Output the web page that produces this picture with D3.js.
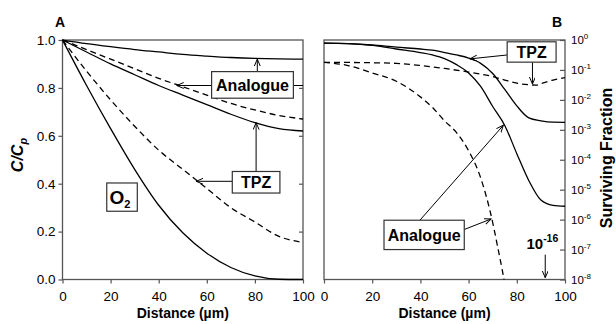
<!DOCTYPE html>
<html>
<head>
<meta charset="utf-8">
<script src="https://cdn.jsdelivr.net/npm/d3@7"></script>
<style>
  body { margin: 0; background: #fff; }
  text { font-family: "Liberation Sans", Arial, sans-serif; }
</style>
</head>
<body>
<div id="chart"></div>
<script>
// Panel A: relative concentration C/Cp vs distance
const distA = [0, 10, 20, 30, 40, 50, 60, 70, 80, 90, 100];
const analogueSolidA = [1, 0.985, 0.972, 0.96, 0.95, 0.94, 0.933, 0.927, 0.923, 0.921, 0.92];
const analogueDashA  = [1, 0.96, 0.92, 0.88, 0.84, 0.805, 0.77, 0.735, 0.708, 0.685, 0.67];
const tpzSolidA      = [1, 0.95, 0.90, 0.855, 0.81, 0.77, 0.73, 0.69, 0.655, 0.63, 0.62];
const tpzDashA       = [1, 0.87, 0.75, 0.64, 0.54, 0.46, 0.38, 0.30, 0.24, 0.18, 0.155];
const o2A            = [1, 0.81, 0.63, 0.46, 0.31, 0.195, 0.11, 0.05, 0.015, 0.001, 0];

// Panel B: surviving fraction vs distance
const distB = [0, 10, 20, 30, 40, 45, 50, 55, 60, 65, 70, 75, 80, 85, 90, 95, 100];
const tpzSolidB      = [0.79, 0.76, 0.68, 0.575, 0.5, 0.457, 0.38, 0.316, 0.25, 0.166, 0.076, 0.0224, 0.0063, 0.0025, 0.002, 0.0018, 0.00178];
const analogueSolidB = [0.79, 0.76, 0.66, 0.5, 0.38, 0.316, 0.24, 0.15, 0.079, 0.028, 0.006, 0.0014, 1.6e-4, 2e-5, 4.5e-6, 3e-6, 2.8e-6];
const distTpzDashB   = [0, 10, 20, 30, 40, 50, 60, 70, 75, 80, 85, 88, 90, 95, 100];
const tpzDashB       = [0.18, 0.178, 0.174, 0.166, 0.141, 0.112, 0.085, 0.06, 0.046, 0.036, 0.032, 0.031, 0.035, 0.046, 0.055];
const distAnaDashB   = [0, 10, 20, 30, 40, 45, 50, 55, 60, 65, 70, 72, 74, 76];
const analogueDashB  = [0.18, 0.14, 0.079, 0.042, 0.0126, 0.0056, 0.002, 8e-4, 2e-4, 2.5e-5, 8e-7, 1.3e-7, 2e-8, 2.5e-9];

const ticksA = [0, 0.2, 0.4, 0.6, 0.8, 1.0];
const ticksX = [0, 20, 40, 60, 80, 100];
const exponentsB = [0, -1, -2, -3, -4, -5, -6, -7, -8];

const W = 616, H = 324;
const frameColor = "#555";

const svg = d3.select("#chart")
    .append("svg")
    .attr("width", W)
    .attr("height", H);

svg.append("rect").attr("width", W).attr("height", H).attr("fill", "#fff");

const xA = d3.scaleLinear().domain([0, 100]).range([62.5, 303]);
const yA = d3.scaleLinear().domain([0, 1]).range([279.5, 40]);
const xB = d3.scaleLinear().domain([0, 100]).range([324, 565]);
const yB = d3.scaleLog().domain([1e-8, 1]).range([279.5, 40]);

// arrow head
svg.append("defs").append("marker")
    .attr("id", "arrow")
    .attr("markerUnits", "userSpaceOnUse")
    .attr("markerWidth", 10).attr("markerHeight", 8)
    .attr("refX", 7).attr("refY", 3)
    .attr("orient", "auto")
    .append("path")
    .attr("d", "M0,0 L7,3 L0,6")
    .attr("fill", "none")
    .attr("stroke", "#000")
    .attr("stroke-width", 1);

svg.select("defs").append("clipPath")
    .attr("id", "clipB")
    .append("rect")
    .attr("x", xB(0)).attr("y", yB(1))
    .attr("width", xB(100) - xB(0)).attr("height", yB(1e-8) - yB(1));

// ---------- Panel A ----------
const gA = svg.append("g");

gA.append("g")
    .attr("transform", `translate(0,${yA(0)})`)
    .call(d3.axisBottom(xA).tickValues(ticksX).tickSize(4).tickPadding(8))
    .call(g => g.select(".domain").remove());

gA.append("g")
    .attr("transform", `translate(${xA(0)},0)`)
    .call(d3.axisLeft(yA).tickValues(ticksA).tickFormat(d3.format(".1f")).tickSize(4).tickPadding(3))
    .call(g => g.select(".domain").remove());

// inward ticks on right edge
gA.append("g")
    .attr("transform", `translate(${xA(100)},0)`)
    .call(d3.axisRight(yA).tickValues(ticksA.slice(1, 5)).tickFormat("").tickSize(-4))
    .call(g => g.select(".domain").remove());

gA.append("rect")
    .attr("x", xA(0)).attr("y", yA(1))
    .attr("width", xA(100) - xA(0)).attr("height", yA(0) - yA(1))
    .attr("fill", "none").attr("stroke", frameColor).attr("stroke-width", 1.3);

const lineA = d3.line()
    .x(d => xA(d[0]))
    .y(d => yA(d[1]))
    .curve(d3.curveMonotoneX);

const seriesA = [
    { values: analogueSolidA, dash: null },
    { values: analogueDashA, dash: "6,4" },
    { values: tpzSolidA, dash: null },
    { values: tpzDashA, dash: "6,4" },
    { values: o2A, dash: null }
];

gA.selectAll(".lineA")
    .data(seriesA)
    .enter()
    .append("path")
    .attr("class", "lineA")
    .attr("d", s => lineA(distA.map((d, i) => [d, s.values[i]])))
    .attr("fill", "none")
    .attr("stroke", "#000")
    .attr("stroke-width", 1.3)
    .attr("stroke-dasharray", s => s.dash);

// ---------- Panel B ----------
const gB = svg.append("g");

gB.append("g")
    .attr("transform", `translate(0,${yB(1e-8)})`)
    .call(d3.axisBottom(xB).tickValues(ticksX).tickSize(4).tickPadding(8))
    .call(g => g.select(".domain").remove());

gB.append("g")
    .attr("transform", `translate(${xB(100)},0)`)
    .call(d3.axisRight(yB).tickValues(exponentsB.map(e => Math.pow(10, e))).tickFormat("").tickSize(-5))
    .call(g => g.select(".domain").remove());

gB.selectAll(".expLabel")
    .data(exponentsB)
    .enter()
    .append("text")
    .attr("class", "expLabel")
    .attr("x", xB(100) + 6)
    .attr("y", e => yB(Math.pow(10, e)) + 4)
    .attr("font-size", 11.5)
    .text("10")
    .append("tspan")
    .attr("dy", -5)
    .attr("font-size", 8)
    .text(e => e === 0 ? "0" : e);

gB.append("rect")
    .attr("x", xB(0)).attr("y", yB(1))
    .attr("width", xB(100) - xB(0)).attr("height", yB(1e-8) - yB(1))
    .attr("fill", "none").attr("stroke", frameColor).attr("stroke-width", 1.3);

const lineB = d3.line()
    .x(d => xB(d[0]))
    .y(d => yB(d[1]))
    .curve(d3.curveMonotoneX);

const seriesB = [
    { x: distB, values: tpzSolidB, dash: null },
    { x: distB, values: analogueSolidB, dash: null },
    { x: distTpzDashB, values: tpzDashB, dash: "6,4" },
    { x: distAnaDashB, values: analogueDashB, dash: "6,4" }
];

gB.selectAll(".lineB")
    .data(seriesB)
    .enter()
    .append("path")
    .attr("class", "lineB")
    .attr("clip-path", "url(#clipB)")
    .attr("d", s => lineB(s.x.map((d, i) => [d, s.values[i]])))
    .attr("fill", "none")
    .attr("stroke", "#000")
    .attr("stroke-width", 1.3)
    .attr("stroke-dasharray", s => s.dash);

svg.selectAll(".tick text").attr("font-size", 13.5).attr("fill", "#000")
    .style("font-family", "'Liberation Sans', Arial, sans-serif");
svg.selectAll(".tick line").attr("stroke", frameColor).attr("stroke-width", 1.2);

// ---------- Annotations ----------
const boxes = [
    { x: xA, y: yA, label: "Analogue", x0: 62, x1: 96, y0: 0.757, y1: 0.868 },
    { x: xA, y: yA, label: "TPZ", x0: 70.6, x1: 90.4, y0: 0.361, y1: 0.451 },
    { x: xA, y: yA, label: "O", sub: "2", x0: 18.4, x1: 31.1, y0: 0.285, y1: 0.403, size: 19 },
    { x: xB, y: yB, label: "TPZ", x0: 76, x1: 96.3, y0: Math.pow(10, -0.74), y1: Math.pow(10, -0.06) },
    { x: xB, y: yB, label: "Analogue", x0: 24.9, x1: 58.2, y0: 1e-7, y1: Math.pow(10, -6.02) }
];

const arrows = [
    { x: xA, y: yA, from: [81, 0.868], to: [81, 0.92], head: true },
    { x: xA, y: yA, from: [62, 0.81], to: [47.5, 0.81], head: true },
    { x: xA, y: yA, from: [96, 0.81], to: [100, 0.81], head: false },
    { x: xA, y: yA, from: [70.6, 0.41], to: [55.6, 0.41], head: true },
    { x: xA, y: yA, from: [80.5, 0.451], to: [80.5, 0.655], head: true },
    { x: xB, y: yB, from: [76, Math.pow(10, -0.5)], to: [60.6, Math.pow(10, -0.63)], head: true },
    { x: xB, y: yB, from: [86.5, Math.pow(10, -0.74)], to: [86.5, Math.pow(10, -1.47)], head: true },
    { x: xB, y: yB, from: [39.8, Math.pow(10, -6.02)], to: [74.4, Math.pow(10, -2.85)], head: true },
    { x: xB, y: yB, from: [58.2, Math.pow(10, -6.33)], to: [69.3, Math.pow(10, -5.98)], head: true },
    { x: xB, y: yB, from: [91.8, Math.pow(10, -7.17)], to: [91.8, Math.pow(10, -7.94)], head: true }
];

const ann = svg.append("g");

ann.selectAll(".arrow")
    .data(arrows)
    .enter()
    .append("line")
    .attr("class", "arrow")
    .attr("x1", a => a.x(a.from[0])).attr("y1", a => a.y(a.from[1]))
    .attr("x2", a => a.x(a.to[0])).attr("y2", a => a.y(a.to[1]))
    .attr("stroke", "#000")
    .attr("stroke-width", 1)
    .attr("marker-end", a => a.head ? "url(#arrow)" : null);

const boxG = ann.selectAll(".box")
    .data(boxes)
    .enter()
    .append("g")
    .attr("class", "box");

boxG.append("rect")
    .attr("x", b => b.x(b.x0)).attr("y", b => b.y(b.y1))
    .attr("width", b => b.x(b.x1) - b.x(b.x0))
    .attr("height", b => b.y(b.y0) - b.y(b.y1))
    .attr("fill", "#fff")
    .attr("stroke", "#333")
    .attr("stroke-width", 1.2);

const boxText = boxG.append("text")
    .attr("x", b => (b.x(b.x0) + b.x(b.x1)) / 2 - (b.sub ? 2 : 0))
    .attr("y", b => (b.y(b.y0) + b.y(b.y1)) / 2 + (b.size || 16) * 0.36)
    .attr("text-anchor", "middle")
    .attr("font-size", b => b.size || 16)
    .attr("font-weight", "bold")
    .text(b => b.label);

boxText.filter(b => b.sub)
    .append("tspan")
    .attr("dy", 4)
    .attr("font-size", 11)
    .text(b => b.sub);

// 10^-16 note
ann.append("text")
    .attr("x", xB(84))
    .attr("y", yB(Math.pow(10, -6.98)))
    .attr("font-size", 15)
    .attr("font-weight", "bold")
    .text("10")
    .append("tspan")
    .attr("dy", -7)
    .attr("font-size", 10.5)
    .text("-16");

// ---------- Titles ----------
svg.append("text")
    .attr("x", xA(50)).attr("y", 318)
    .attr("text-anchor", "middle")
    .attr("font-size", 14).attr("font-weight", "bold")
    .text("Distance (\u00b5m)");

svg.append("text")
    .attr("x", xB(50)).attr("y", 318)
    .attr("text-anchor", "middle")
    .attr("font-size", 14).attr("font-weight", "bold")
    .text("Distance (\u00b5m)");

const yTitle = svg.append("text")
    .attr("transform", "translate(23,155) rotate(-90)")
    .attr("text-anchor", "middle")
    .attr("font-size", 16).attr("font-weight", "bold").attr("font-style", "italic")
    .text("C/C");
yTitle.append("tspan").attr("dy", 4).attr("font-size", 11).text("p");

svg.append("text")
    .attr("transform", "translate(612,158) rotate(-90)")
    .attr("text-anchor", "middle")
    .attr("font-size", 16).attr("font-weight", "bold")
    .text("Surviving Fraction");

svg.append("text")
    .attr("x", 60).attr("y", 27)
    .attr("text-anchor", "middle")
    .attr("font-size", 14).attr("font-weight", "bold")
    .text("A");

svg.append("text")
    .attr("x", 557).attr("y", 27)
    .attr("text-anchor", "middle")
    .attr("font-size", 14).attr("font-weight", "bold")
    .text("B");
</script>
</body>
</html>
